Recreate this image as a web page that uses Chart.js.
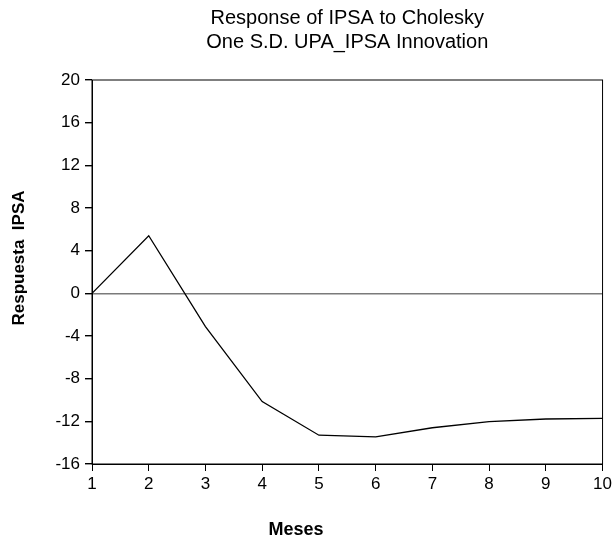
<!DOCTYPE html>
<html>
<head>
<meta charset="utf-8">
<script src="https://cdn.jsdelivr.net/npm/chart.js@4/dist/chart.umd.min.js"></script>
<style>
    html, body { margin: 0; padding: 0; background: #fff; }
    #wrap { width: 615px; height: 540px; }
</style>
</head>
<body>
<div id="wrap"><canvas id="irfChart"></canvas></div>
<script>
// Impulse response
const months = [1, 2, 3, 4, 5, 6, 7, 8, 9, 10];
const response = [0, 5.4, -3.12, -10.15, -13.3, -13.45, -12.6, -12.03, -11.78, -11.72];
const yTicks = [-16, -12, -8, -4, 0, 4, 8, 12, 16, 20];

const titleLines = ['Response of IPSA to Cholesky', 'One S.D. UPA_IPSA Innovation'];
const xTitle = 'Meses';
const yTitle = 'Respuesta  IPSA';

// Frame around the plot area plus the two axis titles
const framePlugin = {
    id: 'frame',
    afterDraw(chart) {
        const { ctx, chartArea } = chart;
        ctx.save();
        ctx.strokeStyle = '#000';
        ctx.lineWidth = 1;
        ctx.strokeRect(chartArea.left, chartArea.top,
            chartArea.right - chartArea.left, chartArea.bottom - chartArea.top);

        ctx.fillStyle = '#000';
        ctx.font = 'bold 18px "Liberation Sans", Arial, sans-serif';
        ctx.textAlign = 'center';
        ctx.textBaseline = 'middle';
        ctx.fillText(xTitle, 296, 530);

        ctx.font = 'bold 17px "Liberation Sans", Arial, sans-serif';
        ctx.translate(19, 258);
        ctx.rotate(-Math.PI / 2);
        ctx.fillText(yTitle, 0, 0);
        ctx.restore();
    }
};

document.addEventListener('DOMContentLoaded', function() {
    const ctx = document.getElementById('irfChart').getContext('2d');

    new Chart(ctx, {
        type: 'line',
        data: {
            datasets: [{
                data: months.map((m, i) => ({ x: m, y: response[i] })),
                borderColor: '#000',
                borderWidth: 1.3,
                pointRadius: 0,
                tension: 0,
                fill: false
            }]
        },
        options: {
            responsive: true,
            maintainAspectRatio: false,
            animation: false,
            layout: {
                padding: { left: 0, right: 11, top: 0, bottom: 0 }
            },
            scales: {
                x: {
                    type: 'linear',
                    min: months[0],
                    max: months[months.length - 1],
                    afterFit: scale => { scale.height = 76; },
                    afterBuildTicks: scale => {
                        scale.ticks = months.map(v => ({ value: v }));
                    },
                    ticks: {
                        color: '#000',
                        padding: 3,
                        maxRotation: 0,
                        font: { family: '"Liberation Sans", Arial, sans-serif', size: 17 }
                    },
                    grid: {
                        drawOnChartArea: false,
                        tickColor: '#000',
                        tickLength: 7
                    },
                    border: { color: '#000', width: 1 }
                },
                y: {
                    min: yTicks[0],
                    max: yTicks[yTicks.length - 1],
                    afterFit: scale => { scale.width = 92; },
                    afterBuildTicks: scale => {
                        scale.ticks = yTicks.map(v => ({ value: v }));
                    },
                    ticks: {
                        color: '#000',
                        padding: 5,
                        font: { family: '"Liberation Sans", Arial, sans-serif', size: 17 }
                    },
                    grid: {
                        color: c => (c.tick && c.tick.value === 0 ? '#7a7a7a' : 'rgba(0,0,0,0)'),
                        lineWidth: 1.4,
                        tickColor: '#000',
                        tickLength: 7
                    },
                    border: { color: '#000', width: 1 }
                }
            },
            plugins: {
                legend: { display: false },
                tooltip: { enabled: false },
                title: {
                    display: true,
                    text: titleLines,
                    fullSize: false,
                    color: '#000',
                    font: { family: '"Liberation Sans", Arial, sans-serif', size: 20, weight: 'normal', lineHeight: 1.2 },
                    padding: { top: 6, bottom: 26 }
                }
            }
        },
        plugins: [framePlugin]
    });
});
</script>
</body>
</html>
